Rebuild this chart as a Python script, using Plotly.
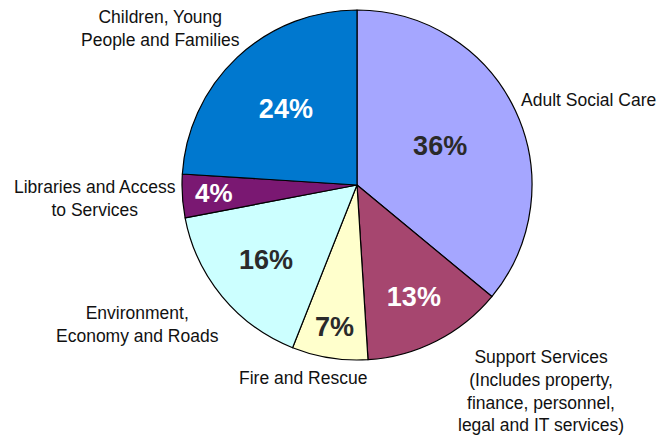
import plotly.graph_objects as go

labels = ["Adult Social Care",
          "Support Services<br>(Includes property,<br>finance, personnel,<br>legal and IT services)",
          "Fire and Rescue",
          "Environment,<br>Economy and Roads",
          "Libraries and Access<br>to Services",
          "Children, Young<br>People and Families"]
values = [36, 13, 7, 16, 4, 24]
colors = ["#A5A6FF", "#A6466F", "#FFFFCC", "#CCFFFF", "#7A1872", "#0078CF"]
text_colors = ["#2a2a2a", "white", "#2a2a2a", "#2a2a2a", "white", "white"]

# label placement (paper coords, style only)
label_pos = [(588, 100), (541, 391), (303, 378), (137, 324), (95, 199), (160, 29)]
# slices whose percentage plotly would shrink; drawn as annotation instead
small_slice_pos = {4: (214, 193)}

W, H = 670, 435
total = sum(values)
textpos = ["none" if i in small_slice_pos else "inside" for i in range(len(values))]

fig = go.Figure(go.Pie(
    values=values,
    labels=labels,
    sort=False,
    direction="clockwise",
    rotation=0,
    marker=dict(colors=colors, line=dict(color="black", width=1.2)),
    texttemplate="%{percent:.0%}",
    textposition=textpos,
    insidetextorientation="horizontal",
    insidetextfont=dict(family="Liberation Sans, Arial", size=27, color=text_colors, weight="bold"),
    showlegend=False,
    hoverinfo="label+percent",
    domain=dict(x=[182 / W, 532 / W], y=[1 - 360 / H, 1 - 10 / H]),
))

for i, (px, py) in small_slice_pos.items():
    fig.add_annotation(
        text=f"{round(100 * values[i] / total)}%", x=px / W, y=1 - py / H,
        xref="paper", yref="paper", xanchor="center", yanchor="middle", showarrow=False,
        font=dict(family="Liberation Sans, Arial", size=26, color=text_colors[i], weight="bold"),
    )

for lab, (px, py) in zip(labels, label_pos):
    fig.add_annotation(
        text=lab, x=px / W, y=1 - py / H, xref="paper", yref="paper",
        xanchor="center", yanchor="middle", showarrow=False, align="center",
        font=dict(family="Liberation Sans, Arial", size=17.5, color="#111111"),
    )

fig.update_layout(
    width=W, height=H,
    margin=dict(l=0, r=0, t=0, b=0),
    paper_bgcolor="white", plot_bgcolor="white",
)

fig.write_html("out.html")
